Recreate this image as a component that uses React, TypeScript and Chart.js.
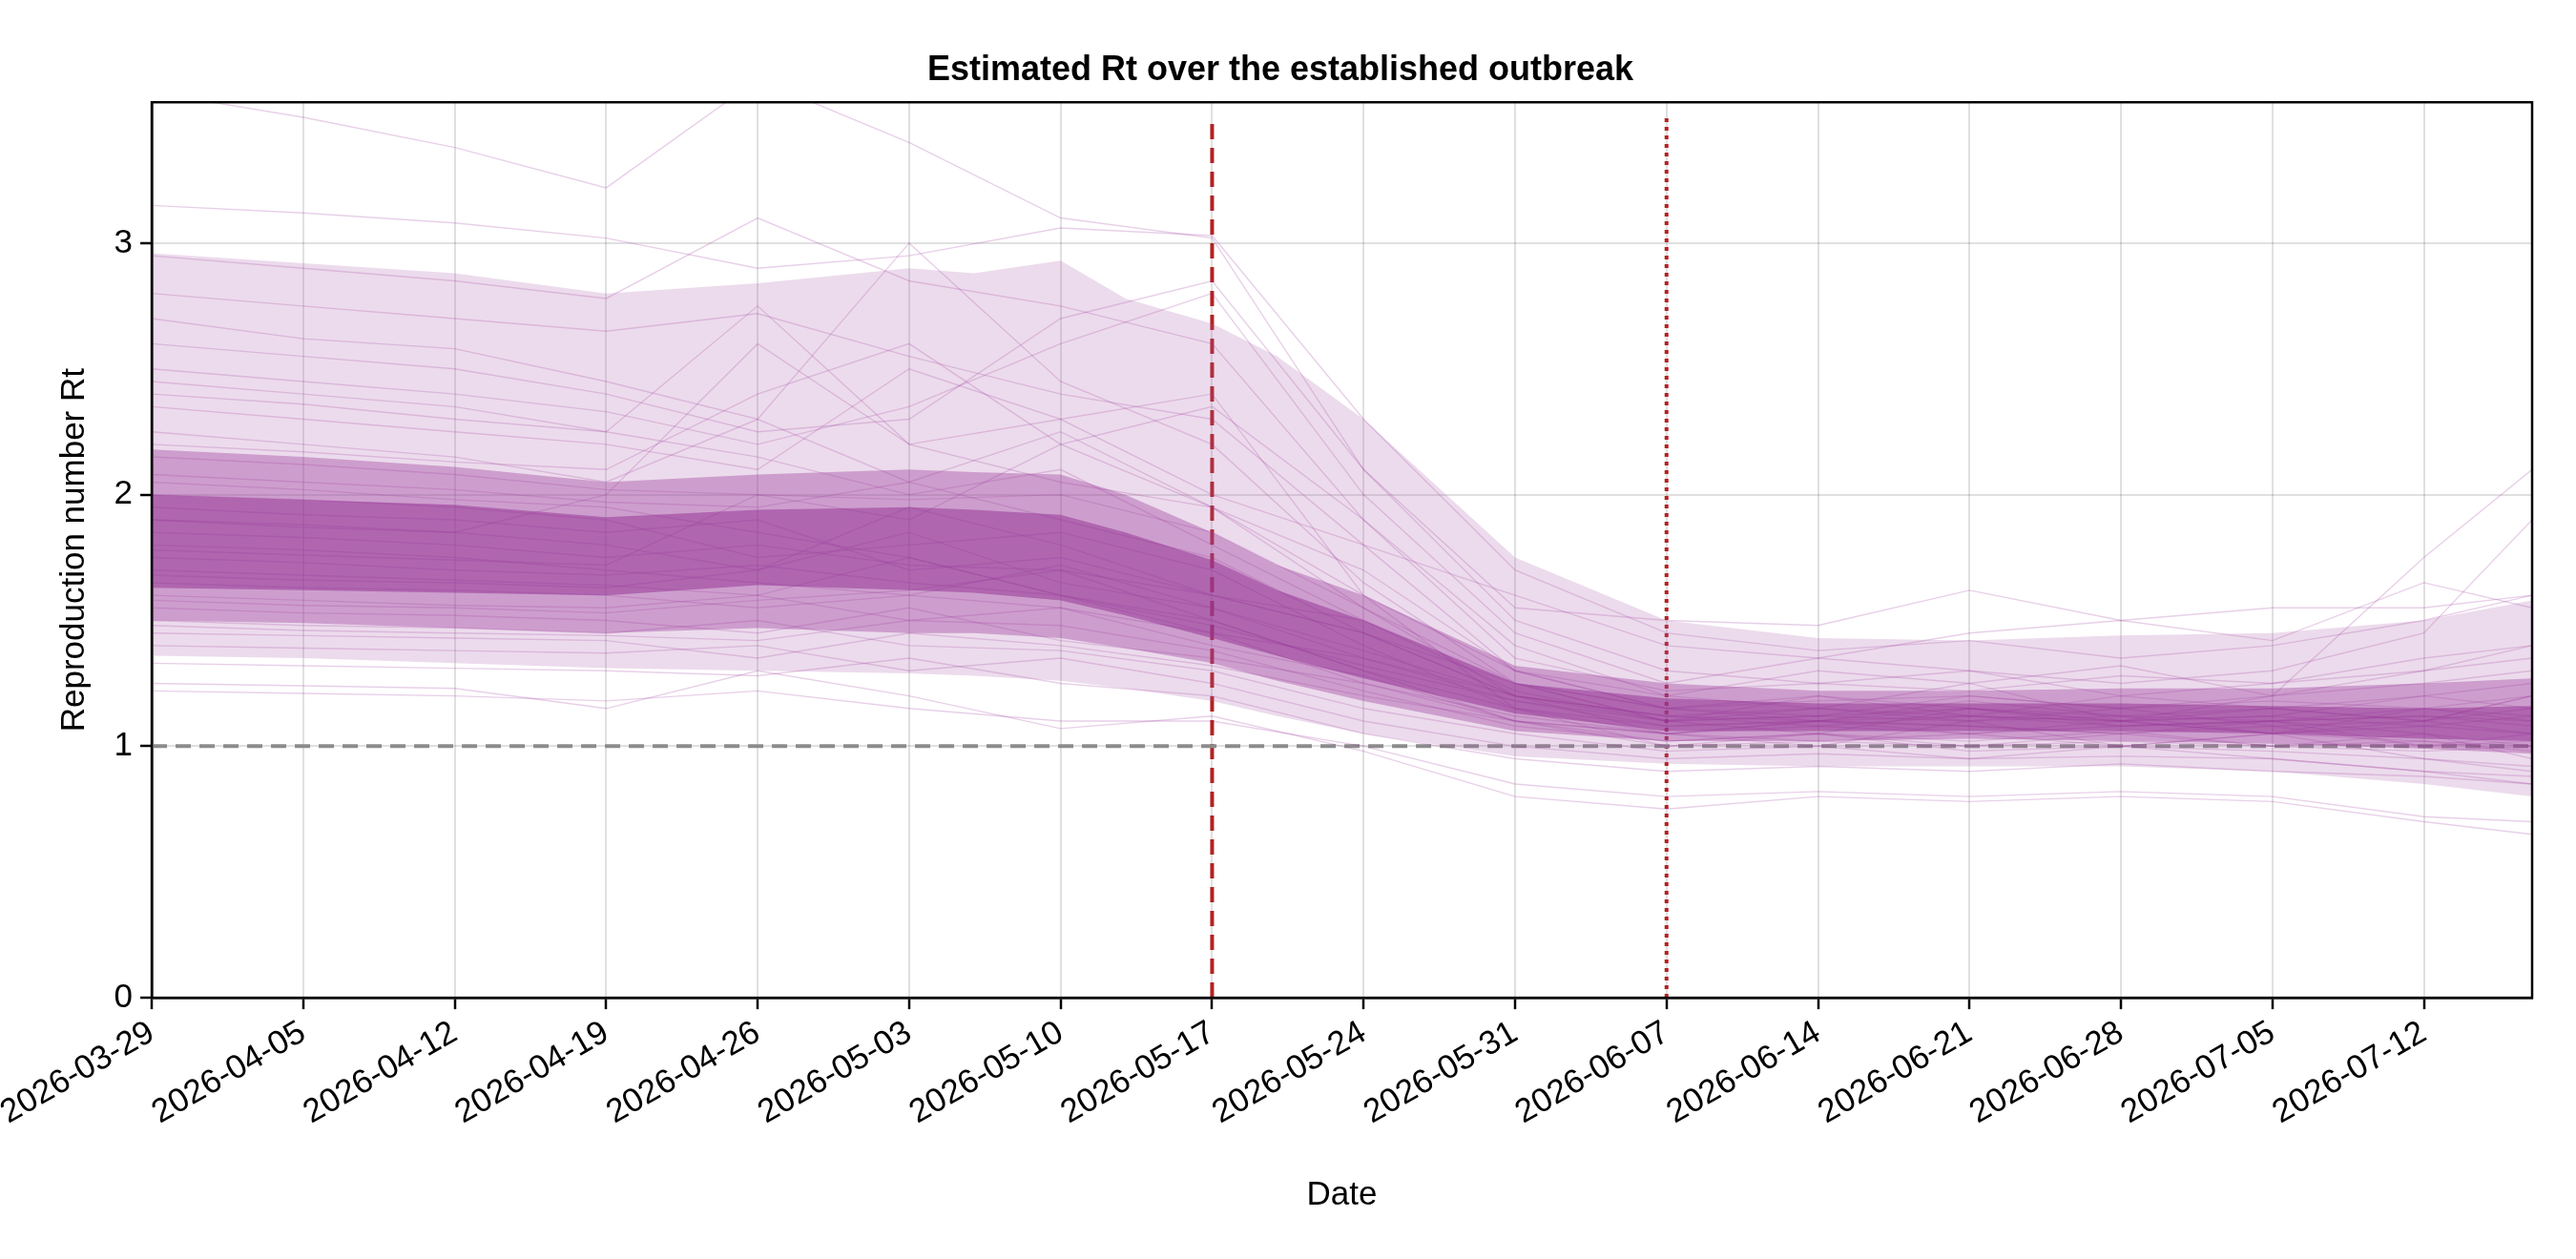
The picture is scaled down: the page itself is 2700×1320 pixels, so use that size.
import React, { useEffect, useRef } from "react";
import { Chart, registerables } from "chart.js";
Chart.register(...registerables);

const tickLabels = ["2026-03-29","2026-04-05","2026-04-12","2026-04-19","2026-04-26","2026-05-03","2026-05-10","2026-05-17","2026-05-24","2026-05-31","2026-06-07","2026-06-14","2026-06-21","2026-06-28","2026-07-05","2026-07-12"];
const bandDays = [0,7,14,21,28,35,38,42,45,49,52,56,63,70,77,84,91,98,105,110];
const outerLo = [1.36,1.35,1.33,1.31,1.30,1.29,1.28,1.26,1.23,1.18,1.12,1.05,0.96,0.93,0.92,0.92,0.92,0.90,0.85,0.80];
const outerHi = [2.96,2.92,2.88,2.80,2.84,2.90,2.88,2.93,2.78,2.68,2.55,2.30,1.75,1.50,1.43,1.42,1.44,1.45,1.50,1.58];
const midLo = [1.50,1.49,1.47,1.45,1.47,1.45,1.45,1.43,1.39,1.33,1.26,1.18,1.06,1.02,1.02,1.03,1.02,1.01,0.99,0.97];
const midHi = [2.18,2.15,2.11,2.05,2.08,2.10,2.09,2.08,2.00,1.85,1.72,1.60,1.32,1.25,1.22,1.22,1.23,1.23,1.25,1.27];
const innerLo = [1.63,1.62,1.61,1.60,1.64,1.62,1.61,1.58,1.52,1.43,1.36,1.27,1.13,1.06,1.06,1.06,1.06,1.05,1.03,1.02];
const innerHi = [2.00,1.98,1.96,1.91,1.94,1.95,1.94,1.92,1.85,1.74,1.62,1.50,1.25,1.19,1.17,1.17,1.17,1.16,1.15,1.16];

const trajDays = [0,7,14,21,28,35,42,49,56,63,70,77,84,91,98,105,110];
const trajectories = [
  [3.6,3.5,3.38,3.22,3.65,3.4,3.1,3.02,2.1,1.5,1.3,1.25,1.3,1.2,1.25,1.3,1.4],
  [3.15,3.12,3.08,3.02,2.9,2.95,3.06,3.03,2.3,1.7,1.45,1.38,1.42,1.35,1.4,1.5,1.6],
  [2.95,2.9,2.85,2.78,3.1,2.85,2.75,2.6,1.9,1.4,1.2,1.15,1.25,1.1,1.2,1.75,2.1],
  [2.8,2.75,2.7,2.65,2.72,2.55,2.4,2.3,1.8,1.3,1.15,1.1,1.18,1.12,1.05,1.1,1.2],
  [2.7,2.62,2.58,2.45,2.3,3.0,2.45,2.2,1.65,1.25,1.1,1.2,1.15,1.08,1.1,1.05,1.0],
  [2.5,2.45,2.4,2.33,2.2,2.35,2.6,2.8,2.0,1.45,1.25,1.35,1.3,1.25,1.3,1.45,1.9],
  [2.45,2.4,2.35,2.25,2.75,2.2,2.05,1.95,1.55,1.2,1.05,1.0,1.1,1.0,0.95,0.9,0.85],
  [2.35,2.3,2.25,2.2,2.1,2.5,2.3,2.4,1.6,1.15,1.0,1.05,0.98,1.0,1.05,0.95,0.9],
  [2.25,2.2,2.15,2.05,2.3,2.05,2.25,1.95,1.7,1.3,1.15,1.18,1.2,1.15,1.2,1.25,1.3],
  [2.15,2.12,2.08,2.02,2.0,1.98,2.0,1.85,1.55,1.25,1.1,1.12,1.1,1.15,1.08,1.1,1.05],
  [2.08,2.05,2.02,1.97,1.95,2.05,1.9,1.75,1.45,1.2,1.12,1.08,1.12,1.1,1.12,1.08,1.12],
  [2.0,1.98,1.95,1.9,1.75,1.8,1.85,1.7,1.4,1.15,1.08,1.1,1.05,1.08,1.1,1.12,1.1],
  [1.95,1.92,1.9,1.85,1.9,1.7,1.75,1.6,1.5,1.25,1.15,1.2,1.12,1.2,1.15,1.2,1.25],
  [1.9,1.88,1.85,1.8,1.7,1.85,1.65,1.55,1.35,1.18,1.1,1.05,1.15,1.1,1.05,1.15,1.1],
  [1.85,1.83,1.8,1.75,1.8,1.72,1.7,1.5,1.3,1.15,1.05,1.1,1.08,1.05,1.1,1.0,1.05],
  [1.8,1.78,1.75,1.7,1.65,1.6,1.72,1.55,1.38,1.2,1.12,1.15,1.1,1.12,1.15,1.1,1.15],
  [1.75,1.73,1.7,1.68,1.72,1.65,1.6,1.45,1.25,1.1,1.0,1.02,1.0,1.05,1.0,0.98,1.0],
  [1.7,1.68,1.66,1.64,1.6,1.75,1.6,1.48,1.32,1.18,1.08,1.1,1.12,1.08,1.1,1.12,1.08],
  [1.65,1.63,1.62,1.6,1.55,1.6,1.55,1.4,1.28,1.1,1.05,1.08,1.05,1.1,1.05,1.08,1.05],
  [1.6,1.58,1.56,1.55,1.6,1.5,1.48,1.38,1.22,1.08,1.02,1.05,1.0,1.02,1.0,1.05,0.95],
  [1.55,1.53,1.52,1.5,1.45,1.55,1.42,1.35,1.25,1.12,1.05,1.1,1.08,1.05,1.08,1.0,1.02],
  [1.5,1.48,1.47,1.45,1.5,1.4,1.38,1.3,1.15,1.05,0.98,1.0,0.95,1.0,0.98,0.95,0.92],
  [1.45,1.44,1.43,1.42,1.35,1.45,1.4,1.32,1.2,1.1,1.05,1.02,1.05,1.0,1.05,1.02,1.0],
  [1.4,1.39,1.38,1.37,1.4,1.3,1.35,1.25,1.1,1.0,0.95,0.97,0.95,0.96,0.95,0.9,0.88],
  [1.33,1.32,1.31,1.3,1.28,1.35,1.25,1.2,1.05,0.95,0.9,0.92,0.9,0.93,0.9,0.88,0.85],
  [1.25,1.24,1.23,1.15,1.3,1.2,1.07,1.12,0.98,0.8,0.75,0.8,0.78,0.8,0.78,0.7,0.65],
  [1.22,1.21,1.2,1.18,1.22,1.15,1.1,1.1,1.0,0.85,0.8,0.82,0.8,0.82,0.8,0.72,0.7],
  [2.6,2.55,2.5,2.4,2.25,2.3,2.7,2.85,2.1,1.55,1.5,1.48,1.62,1.5,1.55,1.55,1.6],
  [1.9,1.87,1.85,2.0,2.6,2.2,2.3,2.0,1.8,1.6,1.4,1.35,1.45,1.5,1.42,1.65,1.55],
  [2.2,2.17,2.13,2.1,2.4,2.6,2.2,2.35,1.9,1.35,1.22,1.25,1.22,1.28,1.25,1.35,1.4],
  [1.78,1.76,1.74,1.72,2.0,1.9,2.2,1.95,1.6,1.3,1.2,1.3,1.25,1.32,1.2,1.3,1.35],
  [1.68,1.66,1.65,1.63,1.7,1.95,1.8,1.6,1.45,1.25,1.15,1.12,1.2,1.15,1.18,1.15,1.2],
  [2.05,2.02,1.98,1.95,1.85,1.75,1.6,1.5,1.3,1.1,1.02,1.05,1.02,1.06,1.0,1.02,0.98],
  [1.58,1.56,1.55,1.53,1.58,1.62,1.7,1.6,1.45,1.2,1.1,1.12,1.15,1.1,1.12,1.2,1.15],
  [2.4,2.36,2.3,2.25,2.15,2.0,2.1,1.8,1.5,1.22,1.1,1.15,1.12,1.1,1.15,1.1,1.2],
  [1.48,1.46,1.45,1.44,1.42,1.5,1.55,1.45,1.35,1.2,1.12,1.1,1.15,1.12,1.1,1.15,1.12],
];

const W = 2700, H = 1320;
const FONT = "'Liberation Sans', Arial, sans-serif";

export default function App() {
  const ref = useRef<HTMLCanvasElement>(null);
  useEffect(() => {
    const pts = (ys: number[], xs: number[]) => ys.map((y, i) => ({ x: xs[i], y }));
    const datasets: any[] = [];
    const band = (lo: number[], hi: number[], color: string) => {
      datasets.push({ data: pts(lo, bandDays), borderWidth: 0, pointRadius: 0, fill: false, borderColor: "transparent" });
      datasets.push({ data: pts(hi, bandDays), borderWidth: 0, pointRadius: 0, fill: "-1", backgroundColor: color, borderColor: "transparent" });
    };
    band(outerLo, outerHi, "rgba(170,90,170,0.22)");
    band(midLo, midHi, "rgba(150,50,150,0.38)");
    band(innerLo, innerHi, "rgba(140,40,140,0.55)");
    trajectories.forEach((t) => datasets.push({ data: pts(t, trajDays), borderColor: "rgba(150,40,150,0.22)", borderWidth: 1.4, pointRadius: 0, fill: false }));
    datasets.push({ data: [{ x: 0, y: 1 }, { x: 110, y: 1 }], borderColor: "#8c8c8c", borderWidth: 4, borderDash: [16, 9], pointRadius: 0, fill: false });
    datasets.push({ data: [{ x: 49, y: 0 }, { x: 49, y: 3.5 }], borderColor: "#b22222", borderWidth: 4, borderDash: [16, 9], pointRadius: 0, fill: false });
    datasets.push({ data: [{ x: 70, y: 0 }, { x: 70, y: 3.5 }], borderColor: "#b22222", borderWidth: 4, borderDash: [4, 5], pointRadius: 0, fill: false });

    const frame = {
      id: "frame",
      afterDraw(c: any) {
        const a = c.chartArea, ctx = c.ctx;
        ctx.save(); ctx.strokeStyle = "#000"; ctx.lineWidth = 2.5;
        ctx.strokeRect(a.left, a.top, a.right - a.left, a.bottom - a.top);
        ctx.restore();
      },
    };
    const chart = new Chart(ref.current!, {
      type: "line",
      data: { datasets },
      plugins: [frame],
      options: {
        animation: false, responsive: false, devicePixelRatio: 1,
        layout: { padding: { left: 30, right: 46, top: 10, bottom: 42 } },
        plugins: {
          legend: { display: false }, tooltip: { enabled: false },
          title: { display: true, text: "Estimated Rt over the established outbreak", color: "#000", font: { family: FONT, size: 36, weight: "bold" }, padding: { top: 42, bottom: 12 } },
        },
        scales: {
          x: {
            type: "linear", min: 0, max: 110,
            afterBuildTicks: (s: any) => { s.ticks = tickLabels.map((_, i) => ({ value: i * 7 })); },
            ticks: { callback: (v: any) => tickLabels[Math.round(v / 7)] ?? "", maxRotation: 30, minRotation: 30, color: "#000", font: { family: FONT, size: 35 }, padding: 4 },
            grid: { color: "rgba(0,0,0,0.12)", lineWidth: 2, tickLength: 12, tickColor: "#000", tickWidth: 2.5 },
            border: { color: "#000", width: 2.5 },
            title: { display: true, text: "Date", color: "#000", font: { family: FONT, size: 35 }, padding: { top: 40 } },
          },
          y: {
            min: 0, max: 3.56,
            afterBuildTicks: (s: any) => { s.ticks = [0, 1, 2, 3].map((v) => ({ value: v })); },
            ticks: { color: "#000", font: { family: FONT, size: 35 }, padding: 8 },
            grid: { color: "rgba(0,0,0,0.12)", lineWidth: 2, tickLength: 12, tickColor: "#000", tickWidth: 2.5 },
            border: { color: "#000", width: 2.5 },
            title: { display: true, text: "Reproduction number Rt", color: "#000", font: { family: FONT, size: 35 }, padding: { bottom: 12 } },
          },
        },
      } as any,
    });
    return () => chart.destroy();
  }, []);
  return (
    <div style={{ position: "absolute", left: 0, top: 0, width: W, height: H, background: "#fff" }}>
      <canvas ref={ref} width={W} height={H} style={{ width: W, height: H }} />
    </div>
  );
}
